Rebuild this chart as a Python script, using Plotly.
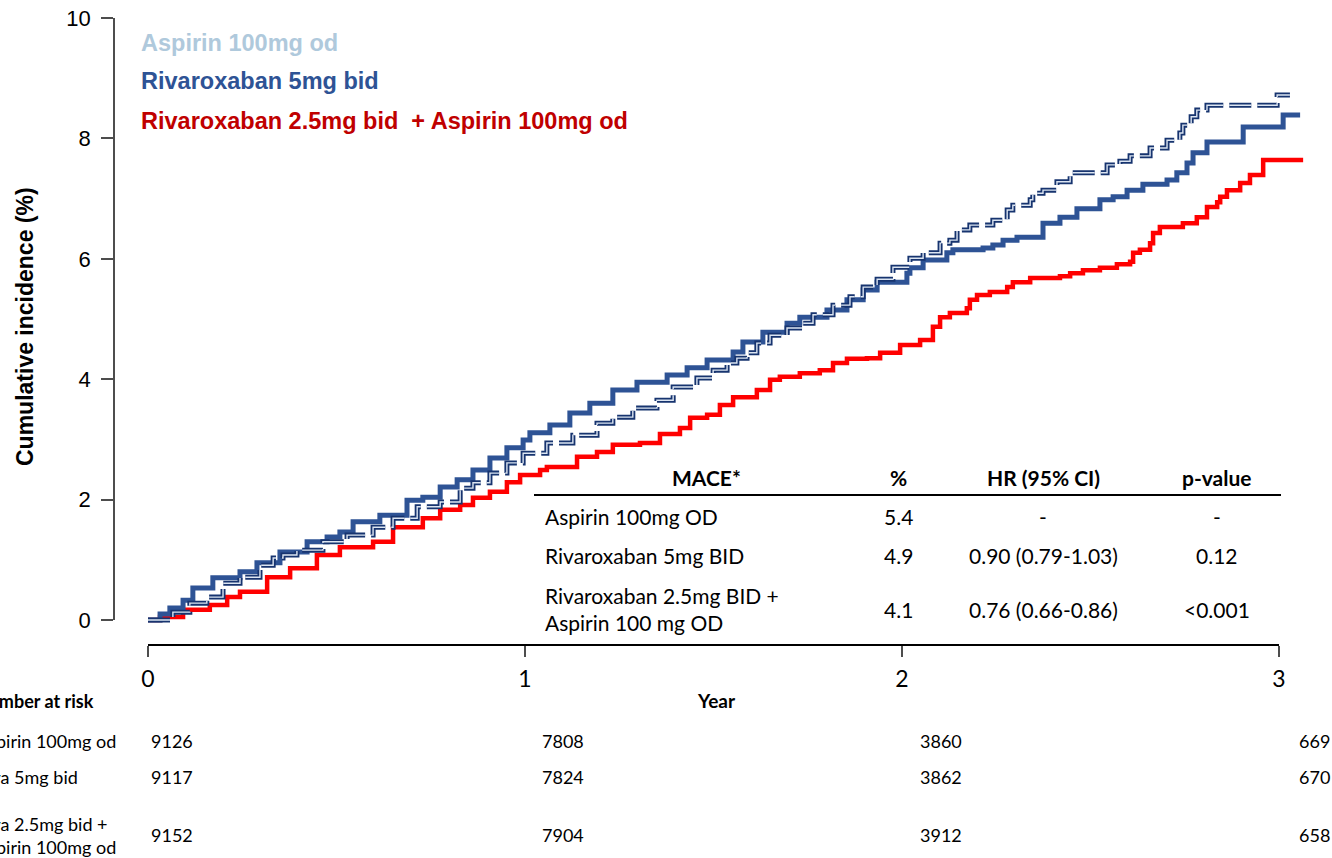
import plotly.graph_objects as go

W, H = 1332, 858

# ---------------- data ----------------
# Cumulative incidence (%) step curves: time (years) / value (%)
asp_t = [0, 0.066, 0.111, 0.156, 0.199, 0.244, 0.297, 0.332, 0.358, 0.395, 0.464, 0.528,
         0.597, 0.650, 0.714, 0.775, 0.828, 0.862, 0.907, 0.952, 0.995, 1.058, 1.127,
         1.191, 1.233, 1.286, 1.350, 1.393, 1.456, 1.499, 1.536, 1.562, 1.589, 1.615,
         1.650, 1.695, 1.737, 1.764, 1.817, 1.862, 1.897, 1.934, 1.976, 2.021, 2.056,
         2.101, 2.127, 2.146, 2.180, 2.241, 2.279, 2.294, 2.340, 2.347, 2.374, 2.411,
         2.446, 2.544, 2.578, 2.605, 2.658, 2.703, 2.737, 2.745, 2.767, 2.782, 2.809,
         2.995, 3.029]
asp_v = [0, 0.13, 0.28, 0.38, 0.61, 0.71, 0.91, 1.03, 1.08, 1.16, 1.30, 1.41,
         1.54, 1.69, 1.88, 1.96, 2.19, 2.28, 2.44, 2.61, 2.77, 2.94, 3.07,
         3.27, 3.37, 3.52, 3.65, 3.87, 4.02, 4.15, 4.27, 4.35, 4.44, 4.60,
         4.73, 4.85, 4.93, 5.07, 5.23, 5.37, 5.53, 5.66, 5.86, 6.01, 6.10,
         6.26, 6.31, 6.48, 6.56, 6.64, 6.81, 6.89, 6.98, 7.09, 7.14, 7.28,
         7.43, 7.56, 7.62, 7.71, 7.84, 7.97, 8.09, 8.22, 8.36, 8.47, 8.55,
         8.72, 8.72]

riv5_t = [0, 0.032, 0.058, 0.093, 0.119, 0.172, 0.244, 0.289, 0.350, 0.422, 0.475, 0.509,
          0.544, 0.615, 0.687, 0.729, 0.775, 0.820, 0.862, 0.907, 0.952, 0.995, 1.013,
          1.066, 1.119, 1.172, 1.233, 1.297, 1.377, 1.430, 1.483, 1.552, 1.578, 1.631,
          1.695, 1.729, 1.801, 1.854, 1.897, 1.934, 2.013, 2.021, 2.056, 2.119, 2.135,
          2.215, 2.241, 2.268, 2.305, 2.374, 2.419, 2.464, 2.525, 2.560, 2.597, 2.639,
          2.703, 2.729, 2.756, 2.772, 2.809, 2.905, 3.011, 3.056]
riv5_v = [0, 0.10, 0.20, 0.33, 0.53, 0.70, 0.80, 0.95, 1.13, 1.30, 1.38, 1.46,
          1.63, 1.74, 1.99, 2.04, 2.21, 2.33, 2.49, 2.69, 2.86, 2.99, 3.11,
          3.24, 3.44, 3.60, 3.82, 3.95, 4.07, 4.19, 4.32, 4.45, 4.62, 4.78,
          4.93, 5.03, 5.15, 5.32, 5.48, 5.61, 5.76, 5.85, 5.98, 6.10, 6.15,
          6.18, 6.23, 6.31, 6.36, 6.59, 6.69, 6.83, 6.98, 7.03, 7.14, 7.24,
          7.31, 7.43, 7.59, 7.76, 7.94, 8.19, 8.39, 8.39]

combo_t = [0, 0.032, 0.093, 0.164, 0.210, 0.244, 0.316, 0.377, 0.448, 0.509, 0.597, 0.650,
           0.729, 0.775, 0.828, 0.862, 0.907, 0.952, 0.987, 1.040, 1.058, 1.138, 1.191,
           1.233, 1.305, 1.358, 1.411, 1.438, 1.483, 1.517, 1.552, 1.615, 1.650, 1.676,
           1.729, 1.782, 1.817, 1.854, 1.907, 1.942, 1.995, 2.048, 2.082, 2.101, 2.127,
           2.172, 2.180, 2.199, 2.233, 2.279, 2.294, 2.340, 2.419, 2.446, 2.480, 2.525,
           2.570, 2.605, 2.613, 2.631, 2.658, 2.666, 2.684, 2.745, 2.782, 2.809, 2.836,
           2.844, 2.862, 2.897, 2.923, 2.958, 3.064]
combo_v = [0, 0.05, 0.17, 0.25, 0.38, 0.47, 0.71, 0.86, 1.08, 1.21, 1.30, 1.54,
           1.69, 1.83, 1.91, 2.03, 2.13, 2.29, 2.41, 2.49, 2.54, 2.71, 2.79,
           2.91, 2.94, 3.09, 3.19, 3.36, 3.41, 3.57, 3.70, 3.82, 3.99, 4.04,
           4.10, 4.15, 4.27, 4.34, 4.35, 4.44, 4.57, 4.65, 4.87, 5.03, 5.10,
           5.18, 5.32, 5.40, 5.45, 5.53, 5.61, 5.68, 5.71, 5.76, 5.81, 5.85,
           5.91, 5.95, 6.10, 6.15, 6.26, 6.43, 6.53, 6.59, 6.69, 6.86, 6.94,
           7.03, 7.14, 7.26, 7.39, 7.64, 7.64]

series_names = ["Aspirin 100mg od", "Rivaroxaban 5mg bid",
                "Rivaroxaban 2.5mg bid\u00a0 + Aspirin 100mg od"]

# Number at risk
risk_years = [0, 1, 2, 3]
risk_labels = ["Aspirin 100mg od", "Riva 5mg bid", "Riva 2.5mg bid +<br>Aspirin 100mg od"]
risk_asp = [9126, 7808, 3860, 669]
risk_riv5 = [9117, 7824, 3862, 670]
risk_combo = [9152, 7904, 3912, 658]

# Inset table
tbl_header = ["MACE*", "%", "HR (95% CI)", "p-value"]
tbl_groups = ["Aspirin 100mg OD", "Rivaroxaban 5mg BID", "Rivaroxaban 2.5mg BID +<br>Aspirin 100 mg OD"]
tbl_pct = ["5.4", "4.9", "4.1"]
tbl_hr = ["-", "0.90 (0.79-1.03)", "0.76 (0.66-0.86)"]
tbl_p = ["-", "0.12", "<0.001"]

x_ticks = [0, 1, 2, 3]
y_ticks = [0, 2, 4, 6, 8, 10]

# ---------------- layout geometry (pixels) ----------------
X0_PX, PX_PER_YEAR = 148, 377
Y0_PX, PX_PER_PCT = 620, 60.2
PLOT_L, PLOT_R, PLOT_T, PLOT_B = 115, 1312, 0, 645

def fx(p):
    return p / W

def fy(p):
    return 1 - p / H

C_ASP_TXT = "#AFC9DC"
C_RIV = "#2E5395"
C_RED_LINE = "#FF0000"
C_RED_TXT = "#C00000"
C_NAVY = "#17346F"
C_ASP_FILL = "#DCE5F2"
AX_COL = "#4D4D4D"

ARIAL = "Liberation Sans, Arial, sans-serif"
CAL = "Lato, Carlito, Calibri, sans-serif"

fig = go.Figure()

fig.add_trace(go.Scatter(x=combo_t, y=combo_v, mode="lines", line_shape="hv",
                         line=dict(color=C_RED_LINE, width=4.5), name=series_names[2],
                         hoverinfo="skip"))
fig.add_trace(go.Scatter(x=riv5_t, y=riv5_v, mode="lines", line_shape="hv",
                         line=dict(color=C_RIV, width=5), name=series_names[1],
                         hoverinfo="skip"))
fig.add_trace(go.Scatter(x=asp_t, y=asp_v, mode="lines", line_shape="hv",
                         line=dict(color=C_NAVY, width=5, dash="22px,6px"),
                         name=series_names[0], hoverinfo="skip"))
fig.add_trace(go.Scatter(x=asp_t, y=asp_v, mode="lines", line_shape="hv",
                         line=dict(color=C_ASP_FILL, width=1.4, dash="22px,6px"),
                         name=series_names[0], hoverinfo="skip"))
# carrier for the visible (offset) axes
fig.add_trace(go.Scatter(x=[x_ticks[0], x_ticks[-1]], y=[y_ticks[0], y_ticks[-1]],
                         xaxis="x2", yaxis="y2", mode="markers",
                         marker=dict(opacity=0), hoverinfo="skip"))

x_rng = [(PLOT_L - X0_PX) / PX_PER_YEAR, (PLOT_R - X0_PX) / PX_PER_YEAR]
y_rng = [(Y0_PX - PLOT_B) / PX_PER_PCT, (Y0_PX - PLOT_T) / PX_PER_PCT]

ann = []
# series labels (legend)
for name, col, ypx in zip(series_names, [C_ASP_TXT, C_RIV, C_RED_TXT], [43, 81, 121]):
    ann.append(dict(text="<b>%s</b>" % name, x=fx(139), y=fy(ypx), xref="paper", yref="paper",
                    xanchor="left", yanchor="middle", showarrow=False,
                    font=dict(family=ARIAL, size=23.5, color=col)))

# y axis title
ann.append(dict(text="<b>Cumulative incidence (%)</b>", x=fx(25), y=fy(327), xref="paper",
                yref="paper", textangle=-90, showarrow=False, xanchor="center",
                yanchor="middle", font=dict(family=ARIAL, size=23, color="black")))
# x axis title
ann.append(dict(text="<b>Year</b>", x=fx(716), y=fy(700), xref="paper", yref="paper",
                showarrow=False, xanchor="center", yanchor="middle",
                font=dict(family=CAL, size=19, color="black")))

# inset table
hdr_x = [707, 898, 1043, 1217]
for t, xp in zip(tbl_header, hdr_x):
    ann.append(dict(text="<b>%s</b>" % t, x=fx(xp), y=fy(477), xref="paper", yref="paper",
                    showarrow=False, xanchor="center", yanchor="middle",
                    font=dict(family=CAL, size=21, color="black")))
row_y = [516, 555, 609]
for g, pc, hr, pv, yp in zip(tbl_groups, tbl_pct, tbl_hr, tbl_p, row_y):
    ann.append(dict(text=g, x=fx(543), y=fy(yp), xref="paper", yref="paper", showarrow=False,
                    xanchor="left", yanchor="middle", align="left",
                    font=dict(family=CAL, size=21, color="black")))
    for t, xp in zip([pc, hr, pv], hdr_x[1:]):
        ann.append(dict(text=t, x=fx(xp), y=fy(yp), xref="paper", yref="paper",
                        showarrow=False, xanchor="center", yanchor="middle",
                        font=dict(family=CAL, size=21, color="black")))

# number at risk
ann.append(dict(text="<b>Number at risk</b>", x=fx(-27), y=fy(701), xref="paper", yref="paper",
                showarrow=False, xanchor="left", yanchor="middle",
                font=dict(family=CAL, size=18, color="black")))
risk_row_y = [741, 777, 835]
RISK_XSHIFT = [1, 15, 16, 18]
for lab, vals, yp in zip(risk_labels, [risk_asp, risk_riv5, risk_combo], risk_row_y):
    ann.append(dict(text=lab, x=fx(-26), y=fy(yp), xref="paper", yref="paper",
                    showarrow=False, xanchor="left", yanchor="middle", align="left",
                    font=dict(family=CAL, size=18, color="black")))
    for yr, v, sh in zip(risk_years, vals, RISK_XSHIFT):
        ann.append(dict(text=str(v), x=yr, xref="x", y=fy(yp), yref="paper", xshift=sh,
                        showarrow=False, xanchor="left", yanchor="middle",
                        font=dict(family=CAL, size=18, color="black")))

fig.update_layout(
    width=W, height=H, autosize=False,
    margin=dict(l=0, r=0, t=0, b=0, pad=0, autoexpand=False),
    paper_bgcolor="white", plot_bgcolor="rgba(0,0,0,0)",
    showlegend=False,
    xaxis=dict(domain=[fx(PLOT_L), fx(PLOT_R)], range=x_rng, visible=False,
               fixedrange=True, automargin=False),
    yaxis=dict(domain=[fy(PLOT_B), fy(PLOT_T)], range=y_rng, visible=False,
               fixedrange=True, automargin=False),
    xaxis2=dict(domain=[fx(X0_PX), fx(X0_PX + 3 * PX_PER_YEAR)], range=[0, 3],
                anchor="free", position=fy(645), showgrid=False, zeroline=False,
                automargin=False,
                showline=True, linecolor="black", linewidth=1.5,
                ticks="outside", ticklen=11, tickwidth=1.5, tickcolor=AX_COL,
                tickvals=x_ticks, ticktext=[str(v) for v in x_ticks],
                tickfont=dict(family=CAL, size=23, color="black"), ticklabelstandoff=3),
    yaxis2=dict(domain=[fy(Y0_PX), fy(Y0_PX - 10 * PX_PER_PCT)], range=[0, 10],
                anchor="free", position=fx(114), showgrid=False, zeroline=False,
                automargin=False,
                showline=True, linecolor=AX_COL, linewidth=1.5,
                ticks="outside", ticklen=12, tickwidth=1.5, tickcolor=AX_COL,
                tickvals=y_ticks, ticktext=[str(v) for v in y_ticks],
                tickfont=dict(family=ARIAL, size=22, color="black"), ticklabelstandoff=6),
    annotations=ann,
    shapes=[dict(type="line", xref="paper", yref="paper", x0=fx(534), x1=fx(1281),
                 y0=fy(495), y1=fy(495), line=dict(color="black", width=2))],
)

fig.write_html("out.html", config={"displayModeBar": False})
